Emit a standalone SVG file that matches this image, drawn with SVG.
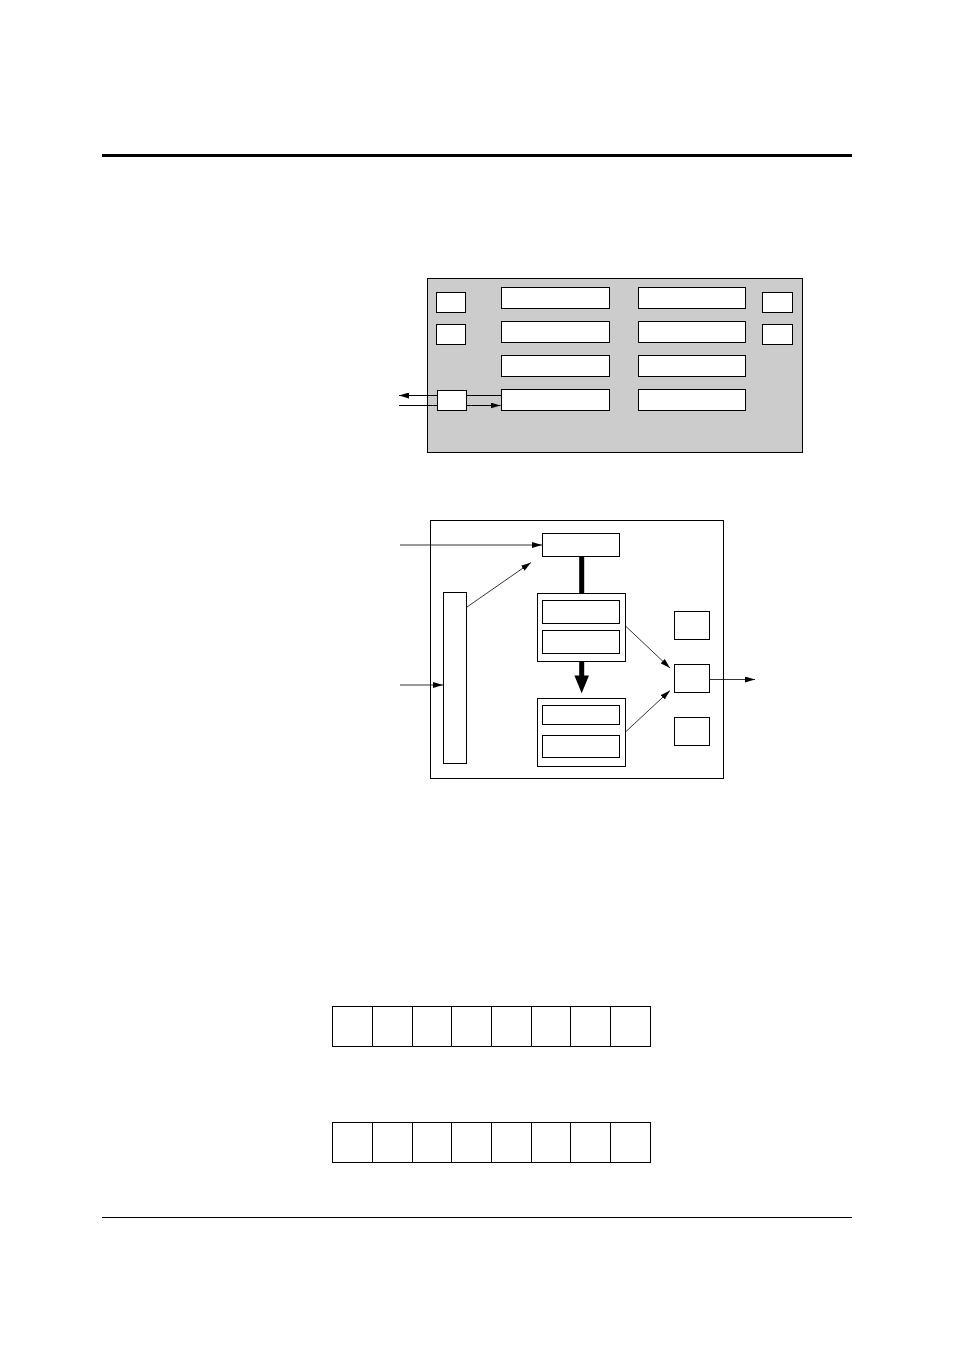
<svg xmlns="http://www.w3.org/2000/svg" width="954" height="1351" viewBox="0 0 954 1351">
<style>
.b{fill:#fff;stroke:#000;stroke-width:1}
.g{fill:#cccccc;stroke:#000;stroke-width:1}
.c{fill:none;stroke:#000;stroke-width:1}
.t{fill:none;stroke:#000;stroke-width:0.8}
</style>
<defs>
<marker id="ah" viewBox="0 0 10 6" refX="10" refY="3" markerWidth="10" markerHeight="6" markerUnits="userSpaceOnUse" orient="auto">
<path d="M0,0 L10,3 L0,6 Z" fill="#000"/>
</marker>
</defs>
<rect x="0" y="0" width="954" height="1351" fill="#fff"/>
<line x1="102" y1="155.5" x2="852" y2="155.5" stroke="#000" stroke-width="3"/>
<line x1="102" y1="1217.5" x2="852" y2="1217.5" stroke="#000" stroke-width="1"/>

<g id="top-diagram">
<rect id="top-frame" class="g" x="427.5" y="278.5" width="375" height="174"/>
<rect id="tl1" class="b" x="436.5" y="292.5" width="29" height="20"/>
<rect id="tl2" class="b" x="436.5" y="324.5" width="29" height="20"/>
<rect id="tr1" class="b" x="762.5" y="292.5" width="30" height="20"/>
<rect id="tr2" class="b" x="762.5" y="324.5" width="30" height="20"/>
<rect id="c1r1" class="b" x="501.5" y="287.5" width="108" height="21"/>
<rect id="c1r2" class="b" x="501.5" y="321.5" width="108" height="21"/>
<rect id="c1r3" class="b" x="501.5" y="355.5" width="108" height="21"/>
<rect id="c1r4" class="b" x="501.5" y="389.5" width="108" height="21"/>
<rect id="c2r1" class="b" x="638.5" y="287.5" width="107" height="21"/>
<rect id="c2r2" class="b" x="638.5" y="321.5" width="107" height="21"/>
<rect id="c2r3" class="b" x="638.5" y="355.5" width="107" height="21"/>
<rect id="c2r4" class="b" x="638.5" y="389.5" width="107" height="21"/>
<rect id="tl3" class="b" x="437.5" y="390.5" width="29" height="20"/>
</g>

<g id="mid-diagram">
<rect id="mid-frame" class="b" x="430.5" y="520.5" width="293" height="258"/>
<rect id="m-top" class="b" x="542.5" y="533.5" width="77" height="23"/>
<rect id="m-g1" class="b" x="537.5" y="593.5" width="88" height="68"/>
<rect id="m-g1a" class="b" x="542.5" y="600.5" width="77" height="23"/>
<rect id="m-g1b" class="b" x="542.5" y="630.5" width="77" height="23"/>
<rect id="m-g2" class="b" x="537.5" y="698.5" width="88" height="68"/>
<rect id="m-g2a" class="b" x="542.5" y="705.5" width="77" height="19"/>
<rect id="m-g2b" class="b" x="542.5" y="735.5" width="77" height="22"/>
<rect id="m-tall" class="b" x="443.5" y="592.5" width="23" height="171"/>
<rect id="m-r1" class="b" x="674.5" y="611.5" width="35" height="28"/>
<rect id="m-r2" class="b" x="674.5" y="664.5" width="35" height="28"/>
<rect id="m-r3" class="b" x="674.5" y="717.5" width="35" height="28"/>
</g>

<g id="registers">
<g id="reg1">
<rect class="b" x="332.5" y="1006.5" width="318" height="40"/>
<path class="c" d="M372.5,1006.5V1046.5M412.5,1006.5V1046.5M451.5,1006.5V1046.5M491.5,1006.5V1046.5M531.5,1006.5V1046.5M570.5,1006.5V1046.5M610.5,1006.5V1046.5"/>
</g>
<g id="reg2">
<rect class="b" x="332.5" y="1122.5" width="318" height="40"/>
<path class="c" d="M372.5,1122.5V1162.5M412.5,1122.5V1162.5M451.5,1122.5V1162.5M491.5,1122.5V1162.5M531.5,1122.5V1162.5M570.5,1122.5V1162.5M610.5,1122.5V1162.5"/>
</g>
</g>

<g id="connectors">
<line class="c" x1="501.5" y1="395.5" x2="466.5" y2="395.5"/>
<line class="c" x1="437.5" y1="395.5" x2="399" y2="395.5" marker-end="url(#ah)"/>
<line class="c" x1="399" y1="405.5" x2="437.5" y2="405.5"/>
<line class="c" x1="466.5" y1="405.5" x2="500.5" y2="405.5" marker-end="url(#ah)"/>
<line class="t" x1="400" y1="545" x2="542" y2="545" marker-end="url(#ah)"/>
<line class="t" x1="467" y1="607" x2="531" y2="562.5" marker-end="url(#ah)"/>
<line class="t" x1="400" y1="685" x2="443" y2="685" marker-end="url(#ah)"/>
<line class="t" x1="626" y1="626.5" x2="670" y2="668" marker-end="url(#ah)"/>
<line class="t" x1="626" y1="731.5" x2="670" y2="690.5" marker-end="url(#ah)"/>
<line class="t" x1="710" y1="679.5" x2="755" y2="679.5" marker-end="url(#ah)"/>
<rect x="579.2" y="556.5" width="5" height="37" fill="#000"/>
<path d="M579.2,661.7 H584.2 V675.5 H589 L581.7,693.3 L574.4,675.5 H579.2 Z" fill="#000"/>
</g>
</svg>
